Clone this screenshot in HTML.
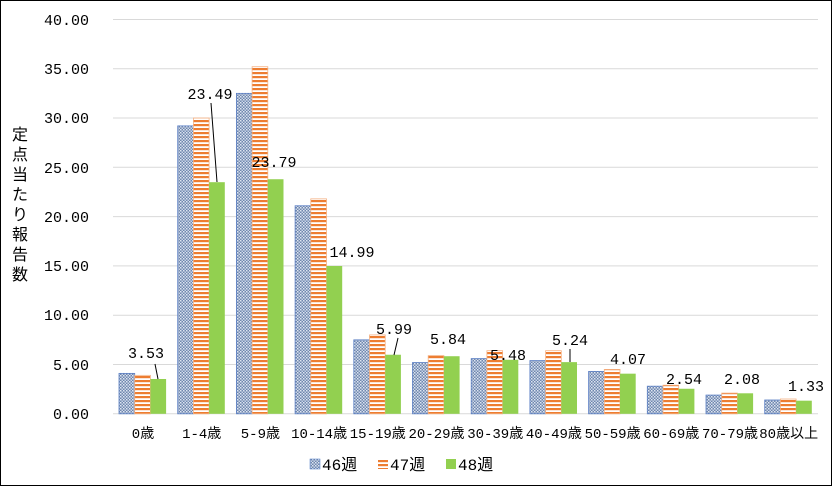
<!DOCTYPE html>
<html><head><meta charset="utf-8"><style>
body{margin:0;background:#fff}
svg text{font-family:"Liberation Mono","Noto Sans CJK JP",monospace}
</style></head><body>
<svg width="833" height="487" xmlns="http://www.w3.org/2000/svg">
<defs>
<pattern id="dots" width="3" height="3" patternUnits="userSpaceOnUse"><rect width="3" height="3" fill="#6f87ad"/><rect x="0" y="0" width="1.5" height="1.5" fill="#dfe6f2"/><rect x="1.5" y="1.5" width="1.5" height="1.5" fill="#c8d3e6"/></pattern>
<pattern id="stripes" width="4" height="4" patternUnits="userSpaceOnUse"><rect width="4" height="4" fill="#fff"/><rect width="4" height="2.2" fill="#ed7d31"/></pattern>
</defs>
<rect x="0.5" y="0.5" width="831" height="485" fill="#fff" stroke="#000"/>
<g stroke="#d9d9d9" stroke-width="1">
<line x1="113" x2="818" y1="19.5" y2="19.5"/><line x1="113" x2="818" y1="68.8" y2="68.8"/><line x1="113" x2="818" y1="118" y2="118"/><line x1="113" x2="818" y1="167.3" y2="167.3"/><line x1="113" x2="818" y1="216.6" y2="216.6"/><line x1="113" x2="818" y1="265.9" y2="265.9"/><line x1="113" x2="818" y1="315.2" y2="315.2"/><line x1="113" x2="818" y1="364.5" y2="364.5"/><line x1="113" x2="818" y1="413.8" y2="413.8"/>
</g>
<g font-size="15" text-anchor="end" fill="#000">
<text x="89" y="25">40.00</text><text x="89" y="74">35.00</text><text x="89" y="123">30.00</text><text x="89" y="173">25.00</text><text x="89" y="222">20.00</text><text x="89" y="271">15.00</text><text x="89" y="320">10.00</text><text x="89" y="370">5.00</text><text x="89" y="419">0.00</text>
</g>
<g font-size="16" text-anchor="middle">
<text x="20" y="140">定</text><text x="20" y="160">点</text><text x="20" y="180">当</text><text x="20" y="200">た</text><text x="20" y="220">り</text><text x="20" y="240">報</text><text x="20" y="260">告</text><text x="20" y="280">数</text>
</g>
<g id="bars"></g>
<g font-size="14" text-anchor="middle" id="cats"></g>
<g font-size="15" text-anchor="middle">
<text x="146" y="358">3.53</text><text x="210" y="99">23.49</text><text x="274" y="167">23.79</text><text x="352" y="257">14.99</text><text x="394" y="334">5.99</text><text x="448" y="344">5.84</text><text x="508" y="360">5.48</text><text x="570" y="345">5.24</text><text x="628" y="364">4.07</text><text x="684" y="384">2.54</text><text x="742" y="384">2.08</text><text x="806" y="391">1.33</text>
</g>
<g stroke="#000" stroke-width="1">
<line x1="155" y1="364" x2="158" y2="379"/><line x1="211" y1="103" x2="217" y2="182"/><line x1="398" y1="338" x2="394" y2="355"/><line x1="570" y1="349" x2="570" y2="362"/>
</g>
<g font-size="16">
<rect x="310" y="459" width="10" height="10" fill="url(#dots)" stroke="#4472c4" stroke-width="0.5"/><text x="322" y="470">46週</text>
<rect x="378" y="459" width="10" height="10" fill="url(#stripes)"/><text x="390" y="470">47週</text>
<rect x="446" y="459" width="10" height="10" fill="#92d050"/><text x="458" y="470">48週</text>
</g>
<script>
var v46=[4.1,29.2,32.5,21.1,7.5,5.2,5.6,5.4,4.3,2.8,1.9,1.4];
var v47=[3.9,30.0,35.2,21.8,8.0,5.9,6.4,6.4,4.5,2.9,2.1,1.5];
var v48=[3.53,23.49,23.79,14.99,5.99,5.84,5.48,5.24,4.07,2.54,2.08,1.33];
var cats=["0歳","1-4歳","5-9歳","10-14歳","15-19歳","20-29歳","30-39歳","40-49歳","50-59歳","60-69歳","70-79歳","80歳以上"];
var ns="http://www.w3.org/2000/svg",b=document.getElementById("bars"),c=document.getElementById("cats");
function r(x,v,f,s){var e=document.createElementNS(ns,"rect");var h=v*9.86;e.setAttribute("x",x);e.setAttribute("y",413.8-h);e.setAttribute("width",15.7);e.setAttribute("height",h);e.setAttribute("fill",f);if(s){e.setAttribute("stroke",s);e.setAttribute("stroke-width","0.8");}b.appendChild(e);}
for(var i=0;i<12;i++){var x=119+58.7*i;r(x,v46[i],"url(#dots)","#5b7fc4");r(x+15.7,v47[i],"url(#stripes)","#f4b183");r(x+31.4,v48[i],"#92d050");
var t=document.createElementNS(ns,"text");t.setAttribute("x",x+24);t.setAttribute("y",438);t.textContent=cats[i];c.appendChild(t);}
</script>
</svg>
</body></html>
